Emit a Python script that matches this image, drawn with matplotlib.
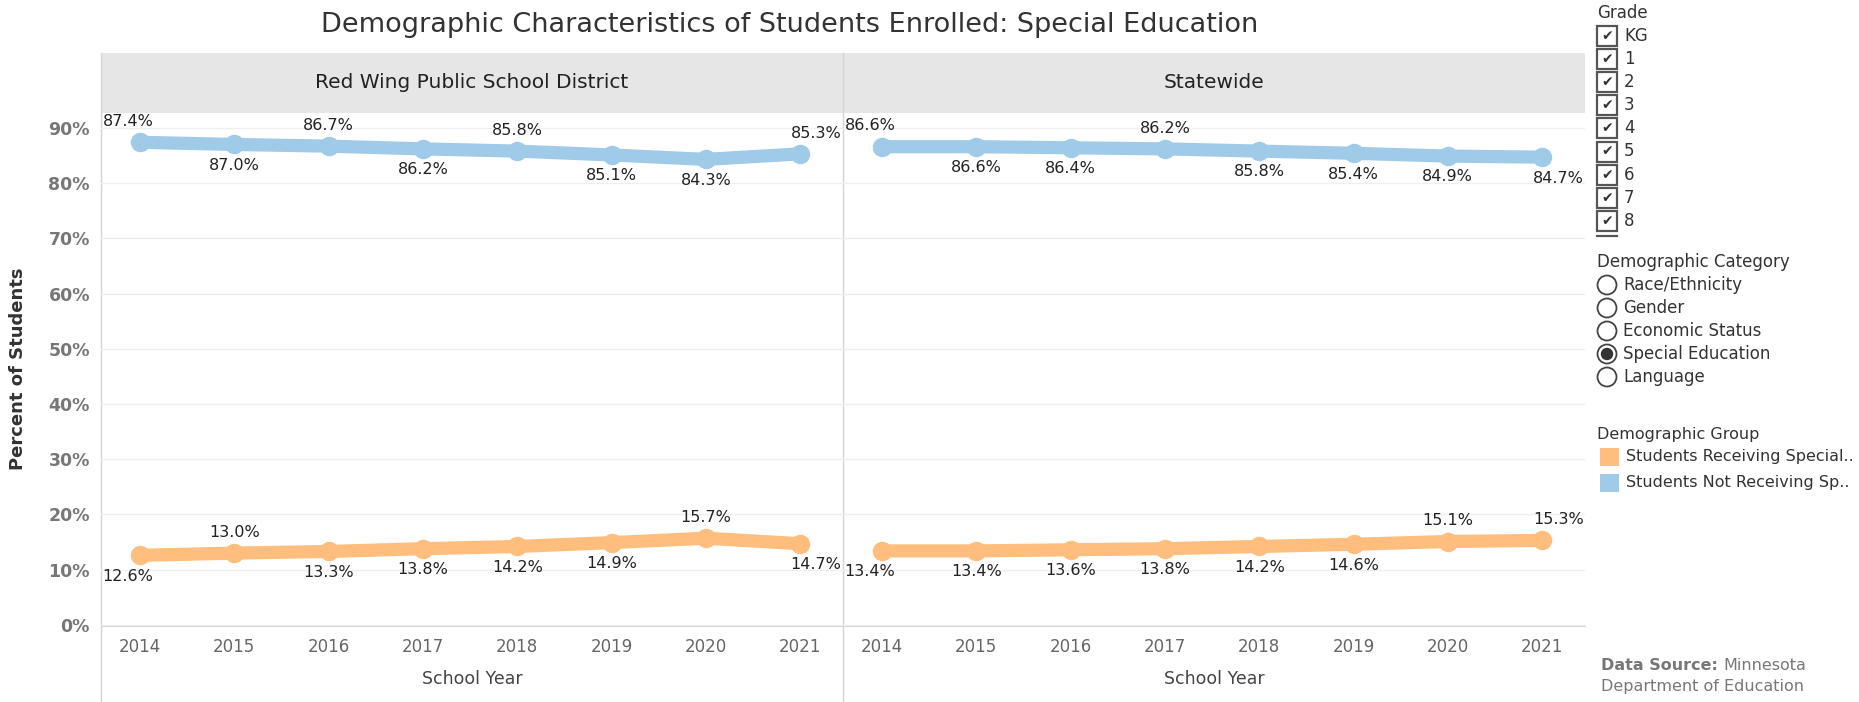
import matplotlib.pyplot as plt
from matplotlib.patches import Rectangle, Circle
import numpy as np

years = ["2014", "2015", "2016", "2017", "2018", "2019", "2020", "2021"]
panels = ["Red Wing Public School District", "Statewide"]

# percent of students, per panel
not_receiving = {
    "Red Wing Public School District": [87.4, 87.0, 86.7, 86.2, 85.8, 85.1, 84.3, 85.3],
    "Statewide": [86.6, 86.6, 86.4, 86.2, 85.8, 85.4, 84.9, 84.7],
}
receiving = {
    "Red Wing Public School District": [12.6, 13.0, 13.3, 13.8, 14.2, 14.9, 15.7, 14.7],
    "Statewide": [13.4, 13.4, 13.6, 13.8, 14.2, 14.6, 15.1, 15.3],
}

grades = ["KG", "1", "2", "3", "4", "5", "6", "7", "8"]
categories = ["Race/Ethnicity", "Gender", "Economic Status", "Special Education", "Language"]
selected_category = "Special Education"
groups = ["Students Receiving Special..", "Students Not Receiving Sp.."]

BLUE = "#A0CBE8"
ORANGE = "#FFBE7D"
GRID = "#EFEFEF"
EDGE = "#D4D4D4"

# +1 label above the point, -1 below
label_side = {
    ("Red Wing Public School District", "not"): [1, -1, 1, -1, 1, -1, -1, 1],
    ("Red Wing Public School District", "rec"): [-1, 1, -1, -1, -1, -1, 1, -1],
    ("Statewide", "not"): [1, -1, -1, 1, -1, -1, -1, -1],
    ("Statewide", "rec"): [-1, -1, -1, -1, -1, -1, 1, 1],
}

W, H = 1859, 702
fig = plt.figure(figsize=(W / 100, H / 100), dpi=100)


def px_axes(x0, y0, x1, y1):
    return fig.add_axes([x0 / W, 1 - y1 / H, (x1 - x0) / W, (y1 - y0) / H])


# overlay in pixel coordinates for the dashboard decorations
over = px_axes(0, 0, W, H)
over.set_xlim(0, W)
over.set_ylim(H, 0)
over.axis("off")
over.set_zorder(-1)

panel_x = [(101, 843), (843, 1585)]
x = np.arange(len(years))

for k, name in enumerate(panels):
    x0, x1 = panel_x[k]
    ax = px_axes(x0, 113, x1, 626)
    ax.set_facecolor("none")
    ax.set_xlim(-0.414, 7.455)
    ax.set_ylim(-0.2, 92.7)
    for s in ["top", "right", "left"]:
        ax.spines[s].set_visible(False)
    ax.spines["bottom"].set_color(EDGE)
    ax.set_yticks(np.arange(0, 91, 10))
    ax.grid(axis="y", color=GRID, lw=1)
    ax.set_axisbelow(True)
    ax.set_xticks(x)
    ax.set_xticklabels(years, fontsize=12, color="#666666")
    ax.tick_params(axis="x", length=0, pad=9)
    ax.tick_params(axis="y", length=0, pad=8)
    if k == 0:
        ax.set_yticklabels([f"{v}%" for v in range(0, 91, 10)],
                           fontsize=12.5, fontweight="bold", color="#777777")
    else:
        ax.set_yticklabels([])

    for series, color, key in [(not_receiving[name], BLUE, "not"),
                               (receiving[name], ORANGE, "rec")]:
        ax.plot(x, series, color=color, lw=9.5, solid_capstyle="round",
                marker="o", ms=13, zorder=3)
        sides = label_side[(name, key)]
        for i, v in enumerate(series):
            dy = 15 * sides[i]
            if i == 0:
                ax.annotate(f"{v:.1f}%", xy=(0, v), xycoords=("axes fraction", "data"),
                            xytext=(1, dy), textcoords="offset points",
                            ha="left", va="center", fontsize=11.5, color="#222222")
            elif i == len(series) - 1:
                ax.annotate(f"{v:.1f}%", xy=(1, v), xycoords=("axes fraction", "data"),
                            xytext=(-1, dy), textcoords="offset points",
                            ha="right", va="center", fontsize=11.5, color="#222222")
            else:
                ax.annotate(f"{v:.1f}%", xy=(i, v), xytext=(0, dy),
                            textcoords="offset points",
                            ha="center", va="center", fontsize=11.5, color="#222222")

    # strip header
    over.add_patch(Rectangle((x0, 53), x1 - x0, 60, color="#E6E6E6", lw=0))
    over.text((x0 + x1) / 2, 83, name, ha="center", va="center",
              fontsize=14.5, color="#222222")
    over.text((x0 + x1) / 2, 679, "School Year", ha="center", va="center",
              fontsize=12.5, color="#444444")

# panel borders
for xv in [101, 843]:
    over.plot([xv, xv], [53, 702], color=EDGE, lw=1)

fig.text(790 / W, 1 - 25 / H, "Demographic Characteristics of Students Enrolled: Special Education",
         ha="center", va="center", fontsize=19.5, color="#333333")
over.text(18, 369, "Percent of Students", rotation=90, ha="center", va="center",
          fontsize=13, fontweight="bold", color="#333333")

# Grade filter
LX = 1597
over.text(LX, 13, "Grade", ha="left", va="center", fontsize=12, color="#333333")
for j, g in enumerate(grades):
    cy = 36 + j * 23.1
    over.add_patch(Rectangle((LX, cy - 10), 20, 20, fill=False, ec="#555555", lw=1.6))
    over.text(LX + 10, cy, "\u2714", ha="center", va="center", fontsize=10, color="#333333")
    over.text(LX + 27, cy, g, ha="left", va="center", fontsize=12, color="#333333")
over.plot([LX, LX + 20], [236, 236], color="#555555", lw=1.6)

# Demographic Category
over.text(LX, 262, "Demographic Category", ha="left", va="center", fontsize=12, color="#333333")
for j, c in enumerate(categories):
    cy = 285 + j * 23
    over.add_patch(Circle((LX + 10, cy), 9.5, fill=False, ec="#444444", lw=1.3))
    if c == selected_category:
        over.add_patch(Circle((LX + 10, cy), 5.5, color="#333333"))
    over.text(LX + 26, cy, c, ha="left", va="center", fontsize=12, color="#333333")

# Demographic Group
over.text(LX, 435, "Demographic Group", ha="left", va="center", fontsize=11.5, color="#333333")
for j, (g, c) in enumerate(zip(groups, [ORANGE, BLUE])):
    cy = 457 + j * 26
    over.add_patch(Rectangle((1600, cy - 9), 19, 18, color=c, lw=0))
    over.text(1626, cy, g, ha="left", va="center", fontsize=11.5, color="#333333")

# data source
t1 = over.text(1601, 666, "Data Source:", ha="left", va="center", fontsize=11.5,
               fontweight="bold", color="#777777")
over.annotate("Minnesota", xy=(1, 0.5), xycoords=t1, xytext=(4, 0), textcoords="offset points",
              ha="left", va="center", fontsize=11.5, color="#777777")
over.text(1601, 686, "Department of Education", ha="left", va="center", fontsize=11.5,
          color="#777777")

fig.savefig("out.png", dpi=100)
